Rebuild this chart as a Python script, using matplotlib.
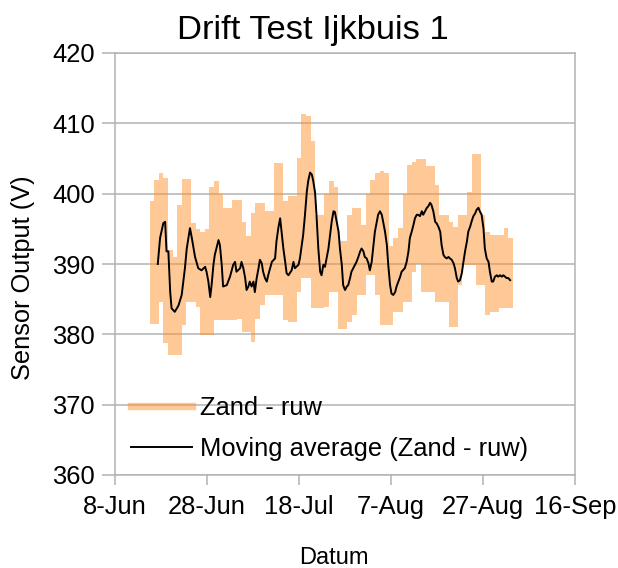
import datetime as dt

import numpy as np
import matplotlib
matplotlib.use("Agg")
import matplotlib.pyplot as plt
import matplotlib.dates as mdates
from matplotlib.lines import Line2D
from matplotlib.ticker import FuncFormatter

plt.rcParams['font.family'] = ['Liberation Sans', 'DejaVu Sans']

# Time axis: days counted from 8 June
start_date = dt.datetime(2019, 6, 8)

# Daily envelope (max / min) of the raw sensor signal "Zand - ruw"
raw_day = np.arange(8, 87)
raw_high = [398.9, 402.0, 403.0, 402.2, 392.0, 391.0, 398.4, 402.1, 402.1, 395.8,
            395.0, 394.6, 395.0, 401.0, 401.8, 400.0, 398.0, 398.0, 399.1, 399.1,
            396.0, 394.0, 397.2, 398.7, 398.7, 397.5, 397.5, 404.4, 404.4, 398.9,
            399.6, 399.6, 405.1, 411.3, 411.0, 407.5, 397.0, 397.0, 400.0, 401.8,
            401.0, 393.2, 393.2, 397.0, 398.0, 398.0, 395.6, 399.9, 402.0, 403.0,
            403.2, 403.0, 392.5, 393.7, 395.1, 399.9, 404.1, 404.5, 404.9, 404.9,
            404.0, 404.0, 401.3, 397.0, 397.0, 396.0, 395.3, 397.0, 397.0, 400.3,
            405.6, 405.6, 397.0, 394.6, 394.1, 394.1, 394.1, 395.1, 393.7]
raw_low = [381.5, 381.5, 384.6, 378.7, 377.0, 377.0, 377.0, 381.3, 384.6, 384.6,
           383.9, 379.9, 379.9, 379.9, 382.0, 382.0, 382.0, 382.0, 382.0, 382.2,
           380.3, 380.3, 378.9, 382.2, 384.1, 385.6, 385.6, 385.6, 385.6, 382.0,
           381.8, 381.8, 386.0, 388.0, 388.0, 383.7, 383.7, 383.7, 383.9, 386.0,
           386.0, 380.8, 380.8, 381.8, 382.7, 385.6, 385.6, 388.5, 388.5, 385.6,
           381.3, 381.3, 381.3, 383.2, 383.2, 384.6, 384.6, 388.9, 390.0, 386.0,
           386.0, 386.0, 384.6, 384.6, 384.6, 381.0, 381.0, 387.0, 389.9, 389.9,
           389.9, 387.0, 387.0, 382.7, 383.2, 383.2, 383.7, 383.7, 383.7]

# Moving average of the raw signal
ma_day = [9.3, 9.8, 10.5, 10.9, 11.2, 11.6, 12.0, 12.3, 13.0, 13.8, 14.5, 15.2, 15.6,
          16.3, 16.7, 17.4, 18.1, 18.8, 19.6, 19.9, 20.3, 20.7, 21.0, 21.4, 21.7,
          22.5, 22.8, 23.2, 23.5, 24.3, 25.0, 25.7, 26.1, 26.4, 27.2, 27.5, 27.9,
          28.3, 28.6, 29.0, 29.3, 29.7, 30.1, 30.4, 30.8, 31.2, 31.5, 31.9, 32.2,
          32.6, 33.0, 33.3, 34.1, 34.8, 35.1, 35.5, 35.9, 36.2, 36.6, 37.0, 37.3,
          37.7, 38.4, 38.8, 39.1, 39.9, 40.2, 40.6, 40.9, 41.3, 41.7, 42.0, 42.4,
          42.8, 43.1, 43.5, 43.8, 44.2, 44.6, 44.9, 45.3, 45.65, 46.4, 47.1, 47.5,
          47.8, 48.2, 48.6, 48.9, 49.3, 49.6, 50.0, 50.4, 50.7, 51.1, 51.4, 51.8,
          52.2, 52.5, 52.9, 53.3, 53.6, 54.0, 54.3, 54.7, 55.1, 55.4, 55.8, 56.2,
          56.5, 56.9, 57.2, 57.6, 58.0, 58.3, 58.7, 59.1, 59.4, 59.8, 60.1, 60.5,
          60.9, 61.2, 61.6, 62.0, 62.3, 63.0, 63.4, 63.8, 64.1, 64.5, 64.9, 65.2,
          65.6, 65.9, 66.3, 66.7, 67.0, 67.4, 67.8, 68.1, 68.5, 68.8, 69.2, 69.6,
          69.9, 70.3, 70.7, 71.0, 71.4, 71.7, 72.1, 72.5, 72.8, 73.2, 73.6, 73.9,
          74.3, 74.6, 75.0, 75.4, 75.7, 76.1, 76.5, 76.8, 77.2, 77.5, 77.9, 78.3,
          78.6, 79.0, 79.3, 79.7, 80.1, 80.4, 80.8, 81.2, 81.5, 81.9, 82.2, 82.6,
          83.0, 83.3, 83.7, 84.1, 84.4, 84.8, 85.1, 85.5, 85.9]
ma_value = [390.0, 393.7, 395.8, 396.0, 391.8, 391.8, 386.0, 383.7, 383.2, 384.1,
            385.6, 389.4, 392.2, 395.1, 393.7, 391.0, 389.4, 389.1, 389.6, 388.9,
            387.5, 385.3, 387.0, 389.9, 391.3, 393.4, 392.7, 389.9, 386.8, 387.0,
            388.2, 389.9, 390.3, 388.9, 389.4, 390.3, 389.4, 388.0, 386.3, 386.8,
            387.5, 386.8, 387.5, 386.0, 388.0, 389.4, 390.6, 390.1, 388.9, 388.0,
            387.5, 388.4, 390.3, 390.8, 393.2, 395.1, 396.5, 394.6, 392.2, 390.3,
            388.7, 388.4, 389.1, 390.3, 389.4, 389.9, 390.8, 392.7, 394.1, 397.0,
            400.3, 401.8, 403.0, 402.7, 401.8, 400.1, 397.0, 392.2, 388.9, 388.4,
            389.9, 389.6, 392.2, 396.0, 397.5, 397.4, 396.0, 394.6, 392.2, 389.9,
            387.0, 386.3, 386.8, 387.0, 388.0, 388.9, 389.4, 389.9, 390.3, 391.0,
            391.8, 392.2, 391.8, 391.0, 390.8, 390.1, 389.1, 390.3, 392.7, 394.6,
            396.0, 397.0, 397.5, 397.0, 396.0, 394.6, 392.7, 389.9, 387.0, 385.8,
            385.6, 386.0, 386.8, 387.5, 388.2, 388.9, 389.4, 390.3, 391.8, 393.7,
            394.6, 395.6, 396.5, 397.0, 397.0, 396.8, 397.5, 397.0, 397.5, 398.0,
            398.2, 398.7, 398.4, 397.5, 396.0, 395.8, 395.3, 394.6, 392.7, 391.3,
            391.0, 390.8, 391.0, 390.8, 390.6, 390.1, 389.4, 388.0, 387.5, 387.7,
            388.7, 390.1, 391.8, 393.2, 394.6, 395.3, 396.0, 396.8, 397.2, 397.7,
            398.0, 397.5, 397.0, 395.1, 392.2, 390.8, 390.3, 388.9, 387.5, 387.5,
            388.2, 388.4, 388.2, 388.4, 388.2, 388.4, 388.2, 388.0, 388.0, 387.7]

x_tick_days = [0, 20, 40, 60, 80, 100]
y_ticks = [360, 370, 380, 390, 400, 410, 420]

title = "Drift Test Ijkbuis 1"
x_title = "Datum"
y_title = "Sensor Output (V)"
raw_label = "Zand - ruw"
ma_label = "Moving average (Zand - ruw)"

raw_color = "#ff9430"
grid_color = "#b3b3b3"

# ---------------------------------------------------------------------------
t0 = mdates.date2num(start_date)
W, H = 618, 568
fig = plt.figure(figsize=(W / 100, H / 100), dpi=100)
ax = fig.add_axes([115 / W, 93 / H, 460 / W, 422 / H])

# raw signal band, one step per day
edges = t0 + np.append(raw_day - 0.5, raw_day[-1] + 0.5)
hi = np.append(raw_high, raw_high[-1])
lo = np.append(raw_low, raw_low[-1])
ax.fill_between(edges, lo, hi, step="post", color=raw_color, alpha=0.5,
                linewidth=0, zorder=2)

# moving average
ax.plot(t0 + np.asarray(ma_day), ma_value, color="black", linewidth=1.4, zorder=3)

ax.set_xlim(t0 + x_tick_days[0], t0 + x_tick_days[-1])
ax.set_ylim(y_ticks[0], y_ticks[-1])
ax.set_xticks([t0 + d for d in x_tick_days])
ax.set_yticks(y_ticks)


def date_label(v, pos):
    d = mdates.num2date(v)
    return f"{d.day}-{d.strftime('%b')}"


ax.xaxis.set_major_formatter(FuncFormatter(date_label))

ax.grid(axis="y", color=grid_color, linewidth=1.1, zorder=1)
ax.set_axisbelow(True)
for side in ("left", "right", "top", "bottom"):
    ax.spines[side].set_color(grid_color)
    ax.spines[side].set_linewidth(1.1)

ax.tick_params(axis="y", length=9.4, width=1.1, color=grid_color, pad=5,
               labelsize=18.4, labelcolor="black")
ax.tick_params(axis="x", length=7.2, width=1.1, color=grid_color, pad=7,
               labelsize=18.4, labelcolor="black")

fig.text(312.5 / W, 1 - 38.5 / H, title, ha="center", va="baseline",
         fontsize=24.8, color="black")
fig.text(334 / W, 3.5 / H, x_title, ha="center", va="baseline",
         fontsize=17, color="black")
fig.text(23 / W, 1 - 278 / H, y_title, ha="center", va="center",
         rotation=90, fontsize=18.3, color="black")

handles = [Line2D([], [], color=raw_color, alpha=0.5, linewidth=5.3),
           Line2D([], [], color="black", linewidth=1.4)]
ax.legend(handles, [raw_label, ma_label], loc="lower left",
          bbox_to_anchor=(0.035, 0.033), frameon=False, borderpad=0,
          borderaxespad=0, handlelength=2.4, handletextpad=0.28,
          labelspacing=0.68, fontsize=18.4)

fig.savefig("out.png", dpi=100)
